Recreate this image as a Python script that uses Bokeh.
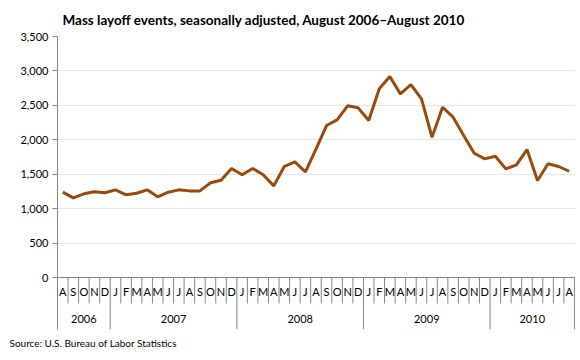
from bokeh.plotting import figure
from bokeh.models import Range1d, FixedTicker, NumeralTickFormatter, Title
from bokeh.core.properties import value
from bokeh.embed import file_html
from bokeh.resources import INLINE

# ---- data ----
months = ["A", "S", "O", "N", "D",
          "J", "F", "M", "A", "M", "J", "J", "A", "S", "O", "N", "D",
          "J", "F", "M", "A", "M", "J", "J", "A", "S", "O", "N", "D",
          "J", "F", "M", "A", "M", "J", "J", "A", "S", "O", "N", "D",
          "J", "F", "M", "A", "M", "J", "J", "A"]
years = ["2006", "2007", "2008", "2009", "2010"]
months_per_year = [5, 12, 12, 12, 8]
layoff_events = [1240, 1157, 1215, 1244, 1230,
                 1273, 1201, 1224, 1273, 1172, 1239, 1273, 1258, 1258, 1375, 1413, 1583,
                 1491, 1583, 1491, 1331, 1612, 1680, 1535, 1863, 2207, 2290, 2493, 2464,
                 2280, 2740, 2918, 2667, 2802, 2595, 2037, 2473, 2328, 2062, 1805, 1723,
                 1761, 1578, 1636, 1858, 1408, 1651, 1612, 1543]
y_ticks = [0, 500, 1000, 1500, 2000, 2500, 3000, 3500]

# ---- layout constants ----
FONT = "Lato"
AXIS_GREY = "#868686"
LINE_COLOR = "#9c4a0b"
Y_MAX = 3500
PLOT_PX = 241                 # pixel height of the 0..3500 area
PX = Y_MAX / PLOT_PX          # data units per pixel
TABLE_PX = 52                 # pixel depth of the category table under the plot

n = len(layoff_events)
x_centers = [i + 0.5 for i in range(n)]

p = figure(frame_width=518, frame_height=PLOT_PX + TABLE_PX,
           min_border_left=57, min_border_right=5, min_border_top=36, min_border_bottom=31,
           x_range=Range1d(0, n + 0.1), y_range=Range1d(-TABLE_PX * PX, Y_MAX),
           x_axis_type=None, output_backend="svg", toolbar_location=None)
p.outline_line_color = None
p.background_fill_color = "white"
p.border_fill_color = "white"

# y axis
p.yaxis.ticker = FixedTicker(ticks=y_ticks)
p.yaxis.formatter = NumeralTickFormatter(format="0,0")
p.yaxis.axis_line_color = AXIS_GREY
p.yaxis.major_tick_line_color = AXIS_GREY
p.yaxis.major_tick_in = 0
p.yaxis.major_tick_out = 5
p.yaxis.minor_tick_line_color = None
p.yaxis.major_label_text_font = FONT
p.yaxis.major_label_text_font_size = "11px"
p.yaxis.major_label_text_color = "#000000"
p.yaxis.major_label_standoff = 4
p.ygrid.grid_line_color = "#e8e8e8"
p.ygrid.grid_line_width = 1

# category table beneath the plot
p.segment(x0=[0], y0=[0], x1=[n], y1=[0], line_color=AXIS_GREY, line_width=1)
bounds = []
acc = 0
for c in months_per_year:
    acc += c
    bounds.append(acc)
month_seps = [i for i in range(1, n) if i not in bounds]
p.segment(x0=month_seps, y0=[0] * len(month_seps), x1=month_seps,
          y1=[-26 * PX] * len(month_seps), line_color=AXIS_GREY, line_width=1)
p.segment(x0=bounds, y0=[0] * len(bounds), x1=bounds,
          y1=[-TABLE_PX * PX] * len(bounds), line_color=AXIS_GREY, line_width=1)
p.text(x=x_centers, y=[-14 * PX] * n, text=months, text_align="center",
       text_baseline="middle", text_font=value(FONT), text_font_size="11px",
       text_color="#000000")
starts = [b - c for b, c in zip(bounds, months_per_year)]
year_x = [s + c / 2 for s, c in zip(starts, months_per_year)]
p.text(x=year_x, y=[-41 * PX] * len(years), text=years, text_align="center",
       text_baseline="middle", text_font=value(FONT), text_font_size="11px",
       text_color="#000000")

# series
p.line(x=x_centers, y=layoff_events, line_width=3, line_color=LINE_COLOR)

# titles
p.title.text = "Mass layoff events, seasonally adjusted, August 2006\u2013August 2010"
p.title.align = "left"
p.title.offset = 5
p.title.standoff = 18
p.title.text_font = FONT
p.title.text_font_style = "bold"
p.title.text_font_size = "13.5px"
p.title.text_color = "#000000"

src = Title(text="Source: U.S. Bureau of Labor Statistics", align="left", offset=-48,
            standoff=10, text_font=FONT, text_font_style="normal",
            text_font_size="10px", text_color="#000000")
p.add_layout(src, "below")

open("out.html", "w").write(file_html(p, INLINE))
